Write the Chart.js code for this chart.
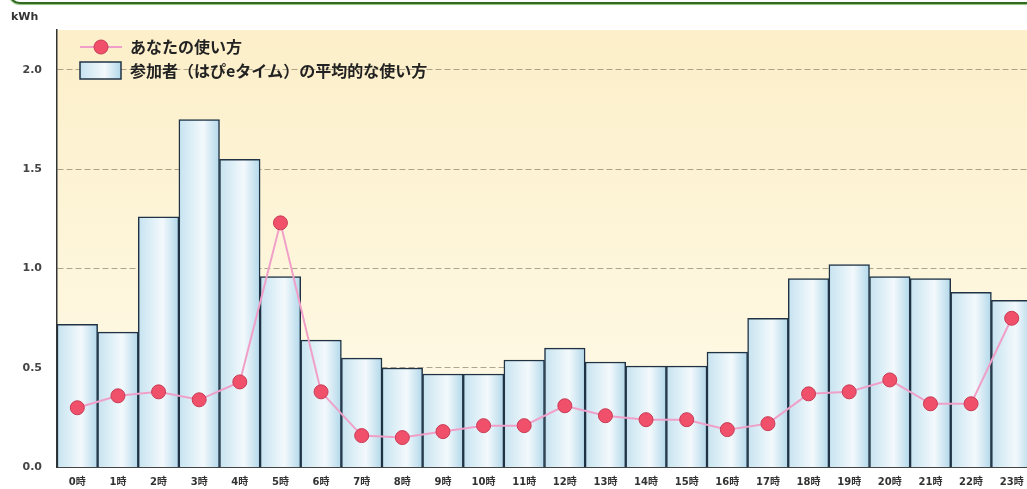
<!DOCTYPE html>
<html>
<head>
<meta charset="utf-8">
<script src="https://cdn.jsdelivr.net/npm/chart.js@4"></script>
<style>
  html, body { margin: 0; padding: 0; background: #fff; overflow: hidden; }
  #wrap { position: relative; width: 1040px; height: 489px; }
  #frame { position: absolute; left: 8px; top: -24px; width: 1060px; height: 24px;
           border: 2px solid #2f6a1e; border-radius: 12px; box-shadow: 0 1px 1px #8fbf7a; }
</style>
</head>
<body>
<div id="wrap">
  <div id="frame"></div>
  <canvas id="usageChart"></canvas>
</div>
<script>
// data
const hours = ['0時','1時','2時','3時','4時','5時','6時','7時','8時','9時','10時','11時',
               '12時','13時','14時','15時','16時','17時','18時','19時','20時','21時','22時','23時'];
const avgUsage = [0.72, 0.68, 1.26, 1.75, 1.55, 0.96, 0.64, 0.55, 0.50, 0.47, 0.47, 0.54,
                  0.60, 0.53, 0.51, 0.51, 0.58, 0.75, 0.95, 1.02, 0.96, 0.95, 0.88, 0.84];
const yourUsage = [0.30, 0.36, 0.38, 0.34, 0.43, 1.23, 0.38, 0.16, 0.15, 0.18, 0.21, 0.21,
                   0.31, 0.26, 0.24, 0.24, 0.19, 0.22, 0.37, 0.38, 0.44, 0.32, 0.32, 0.75];
const yTicks = [0, 0.5, 1.0, 1.5, 2.0];
const yourLabel = 'あなたの使い方';
const avgLabel = '参加者（はぴeタイム）の平均的な使い方';

const canvas = document.getElementById('usageChart');
canvas.width = 1040;
canvas.height = 489;
const ctx = canvas.getContext('2d');

function barGradient(c, x0, x1) {
  const g = c.createLinearGradient(x0, 0, x1, 0);
  g.addColorStop(0, '#c6e3f0');
  g.addColorStop(0.6, '#f3f9fc');
  g.addColorStop(1, '#b2d8ea');
  return g;
}

// plot background + kWh + legend
const decor = {
  id: 'decor',
  beforeDraw(chart) {
    const a = chart.chartArea, c = chart.ctx;
    const g = c.createLinearGradient(0, a.top, 0, a.bottom);
    g.addColorStop(0, '#fcefc9');
    g.addColorStop(1, '#fffbea');
    c.save();
    c.fillStyle = g;
    c.fillRect(a.left, a.top, a.right - a.left, a.bottom - a.top);
    c.restore();
  },
  afterDraw(chart) {
    const c = chart.ctx;
    c.save();
    c.fillStyle = '#333';
    c.font = 'bold 11px "DejaVu Sans"';
    c.textBaseline = 'middle';
    c.fillText('kWh', 11, 17);

    // legend row 1
    c.strokeStyle = '#f0a0c8';
    c.lineWidth = 2;
    c.beginPath(); c.moveTo(80, 47); c.lineTo(122, 47); c.stroke();
    c.fillStyle = '#f0506a';
    c.strokeStyle = '#c83a55';
    c.lineWidth = 1;
    c.beginPath(); c.arc(101, 47, 7, 0, Math.PI * 2); c.fill(); c.stroke();
    // legend row 2
    c.fillStyle = barGradient(c, 80, 121);
    c.fillRect(80, 62, 41, 17);
    c.strokeStyle = '#1f3345';
    c.lineWidth = 1.5;
    c.strokeRect(80, 62, 41, 17);

    c.fillStyle = '#222';
    c.font = 'bold 16px "Noto Sans CJK JP"';
    c.fillText(yourLabel, 130, 47);
    c.fillText(avgLabel, 130, 71);
    c.restore();
  }
};

new Chart(ctx, {
  type: 'bar',
  data: {
    labels: hours,
    datasets: [{
      type: 'line',
      label: yourLabel,
      data: yourUsage,
      order: 0,
      borderColor: '#f0a0c8',
      borderWidth: 2,
      tension: 0,
      pointRadius: 7,
      pointBackgroundColor: '#f0506a',
      pointBorderColor: '#c83a55',
      pointBorderWidth: 1
    }, {
      label: avgLabel,
      data: avgUsage,
      order: 1,
      barPercentage: 1,
      categoryPercentage: 1,
      borderColor: '#1f3345',
      borderWidth: 1.5,
      backgroundColor: function (context) {
        const chart = context.chart;
        const xs = chart.scales.x;
        if (!xs || !chart.chartArea) return '#d0e8f2';
        const w = (chart.chartArea.right - chart.chartArea.left) / hours.length;
        const cx = xs.getPixelForValue(context.dataIndex);
        return barGradient(chart.ctx, cx - w / 2, cx + w / 2);
      }
    }]
  },
  options: {
    responsive: false,
    animation: false,
    layout: { padding: { top: 30, left: 0, right: 6, bottom: 0 } },
    plugins: {
      legend: { display: false },
      tooltip: { enabled: false }
    },
    scales: {
      x: {
        grid: { display: false, drawTicks: false },
        border: { color: '#444', width: 2 },
        ticks: {
          color: '#333',
          padding: 9,
          maxRotation: 0,
          autoSkip: false,
          font: { family: '"DejaVu Sans", "Noto Sans CJK JP"', size: 10, weight: 'bold' }
        },
        afterFit(scale) { scale.height = 21; }
      },
      y: {
        min: 0,
        max: 2.2,
        grid: {
          color: 'rgba(120,110,90,0.6)',
          drawTicks: false,
          lineWidth: 1
        },
        border: { color: '#333', width: 1.5, dash: [6, 3] },
        ticks: {
          color: '#444',
          padding: 15,
          font: { family: '"DejaVu Sans"', size: 11, weight: 'bold' },
          callback: v => v.toFixed(1)
        },
        afterBuildTicks(scale) { scale.ticks = yTicks.map(v => ({ value: v })); },
        afterFit(scale) { scale.width = 57; }
      }
    }
  },
  plugins: [decor]
});
</script>
</body>
</html>
